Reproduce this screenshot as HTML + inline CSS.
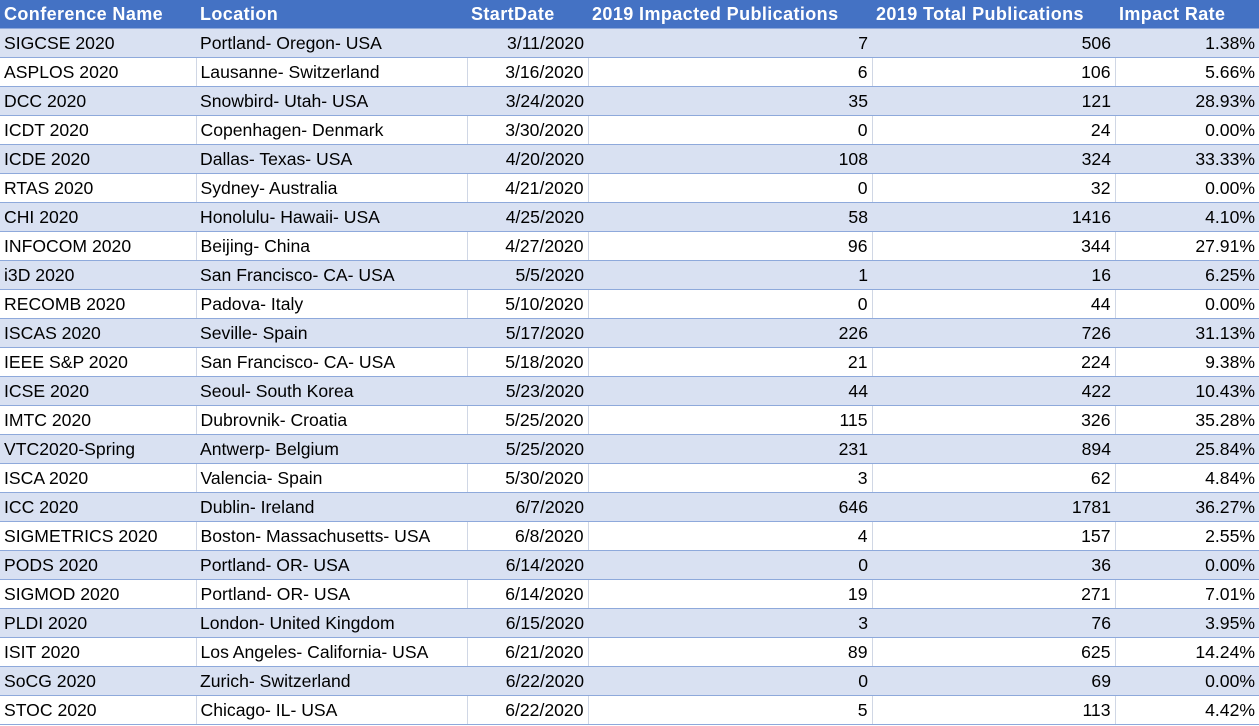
<!DOCTYPE html>
<html><head><meta charset="utf-8"><style>
body{margin:0;width:1259px;height:726px;overflow:hidden;background:#fff;font-family:"Liberation Sans",sans-serif;font-size:17.6px;color:#000}
table{border-collapse:collapse;table-layout:fixed;width:1259px}
td,th{height:28px;padding:0 4px;white-space:nowrap;overflow:hidden;border-bottom:1px solid #8EA9DB;line-height:28px}
th{background:#4472C4;color:#fff;font-weight:bold;text-align:left;font-size:18px;letter-spacing:0.4px}
tr.a td{background:#D9E1F2}
tr.b td{border-left:1px solid #D0D7E5}
tr.b td:first-child{border-left:none}
.r{text-align:right}
</style></head><body>
<table>
<colgroup><col style="width:196px"><col style="width:271px"><col style="width:121px"><col style="width:284px"><col style="width:243px"><col style="width:144px"></colgroup>
<tr><th>Conference Name</th><th>Location</th><th>StartDate</th><th>2019 Impacted Publications</th><th>2019 Total Publications</th><th>Impact Rate</th></tr>
<tr class="a"><td>SIGCSE 2020</td><td>Portland- Oregon- USA</td><td class="r">3/11/2020</td><td class="r">7</td><td class="r">506</td><td class="r">1.38%</td></tr>
<tr class="b"><td>ASPLOS 2020</td><td>Lausanne- Switzerland</td><td class="r">3/16/2020</td><td class="r">6</td><td class="r">106</td><td class="r">5.66%</td></tr>
<tr class="a"><td>DCC 2020</td><td>Snowbird- Utah- USA</td><td class="r">3/24/2020</td><td class="r">35</td><td class="r">121</td><td class="r">28.93%</td></tr>
<tr class="b"><td>ICDT 2020</td><td>Copenhagen- Denmark</td><td class="r">3/30/2020</td><td class="r">0</td><td class="r">24</td><td class="r">0.00%</td></tr>
<tr class="a"><td>ICDE 2020</td><td>Dallas- Texas- USA</td><td class="r">4/20/2020</td><td class="r">108</td><td class="r">324</td><td class="r">33.33%</td></tr>
<tr class="b"><td>RTAS 2020</td><td>Sydney- Australia</td><td class="r">4/21/2020</td><td class="r">0</td><td class="r">32</td><td class="r">0.00%</td></tr>
<tr class="a"><td>CHI 2020</td><td>Honolulu- Hawaii- USA</td><td class="r">4/25/2020</td><td class="r">58</td><td class="r">1416</td><td class="r">4.10%</td></tr>
<tr class="b"><td>INFOCOM 2020</td><td>Beijing- China</td><td class="r">4/27/2020</td><td class="r">96</td><td class="r">344</td><td class="r">27.91%</td></tr>
<tr class="a"><td>i3D 2020</td><td>San Francisco- CA- USA</td><td class="r">5/5/2020</td><td class="r">1</td><td class="r">16</td><td class="r">6.25%</td></tr>
<tr class="b"><td>RECOMB 2020</td><td>Padova- Italy</td><td class="r">5/10/2020</td><td class="r">0</td><td class="r">44</td><td class="r">0.00%</td></tr>
<tr class="a"><td>ISCAS 2020</td><td>Seville- Spain</td><td class="r">5/17/2020</td><td class="r">226</td><td class="r">726</td><td class="r">31.13%</td></tr>
<tr class="b"><td>IEEE S&amp;P 2020</td><td>San Francisco- CA- USA</td><td class="r">5/18/2020</td><td class="r">21</td><td class="r">224</td><td class="r">9.38%</td></tr>
<tr class="a"><td>ICSE 2020</td><td>Seoul- South Korea</td><td class="r">5/23/2020</td><td class="r">44</td><td class="r">422</td><td class="r">10.43%</td></tr>
<tr class="b"><td>IMTC 2020</td><td>Dubrovnik- Croatia</td><td class="r">5/25/2020</td><td class="r">115</td><td class="r">326</td><td class="r">35.28%</td></tr>
<tr class="a"><td>VTC2020-Spring</td><td>Antwerp- Belgium</td><td class="r">5/25/2020</td><td class="r">231</td><td class="r">894</td><td class="r">25.84%</td></tr>
<tr class="b"><td>ISCA 2020</td><td>Valencia- Spain</td><td class="r">5/30/2020</td><td class="r">3</td><td class="r">62</td><td class="r">4.84%</td></tr>
<tr class="a"><td>ICC 2020</td><td>Dublin- Ireland</td><td class="r">6/7/2020</td><td class="r">646</td><td class="r">1781</td><td class="r">36.27%</td></tr>
<tr class="b"><td>SIGMETRICS 2020</td><td>Boston- Massachusetts- USA</td><td class="r">6/8/2020</td><td class="r">4</td><td class="r">157</td><td class="r">2.55%</td></tr>
<tr class="a"><td>PODS 2020</td><td>Portland- OR- USA</td><td class="r">6/14/2020</td><td class="r">0</td><td class="r">36</td><td class="r">0.00%</td></tr>
<tr class="b"><td>SIGMOD 2020</td><td>Portland- OR- USA</td><td class="r">6/14/2020</td><td class="r">19</td><td class="r">271</td><td class="r">7.01%</td></tr>
<tr class="a"><td>PLDI 2020</td><td>London- United Kingdom</td><td class="r">6/15/2020</td><td class="r">3</td><td class="r">76</td><td class="r">3.95%</td></tr>
<tr class="b"><td>ISIT 2020</td><td>Los Angeles- California- USA</td><td class="r">6/21/2020</td><td class="r">89</td><td class="r">625</td><td class="r">14.24%</td></tr>
<tr class="a"><td>SoCG 2020</td><td>Zurich- Switzerland</td><td class="r">6/22/2020</td><td class="r">0</td><td class="r">69</td><td class="r">0.00%</td></tr>
<tr class="b"><td>STOC 2020</td><td>Chicago- IL- USA</td><td class="r">6/22/2020</td><td class="r">5</td><td class="r">113</td><td class="r">4.42%</td></tr>
</table>
</body></html>
